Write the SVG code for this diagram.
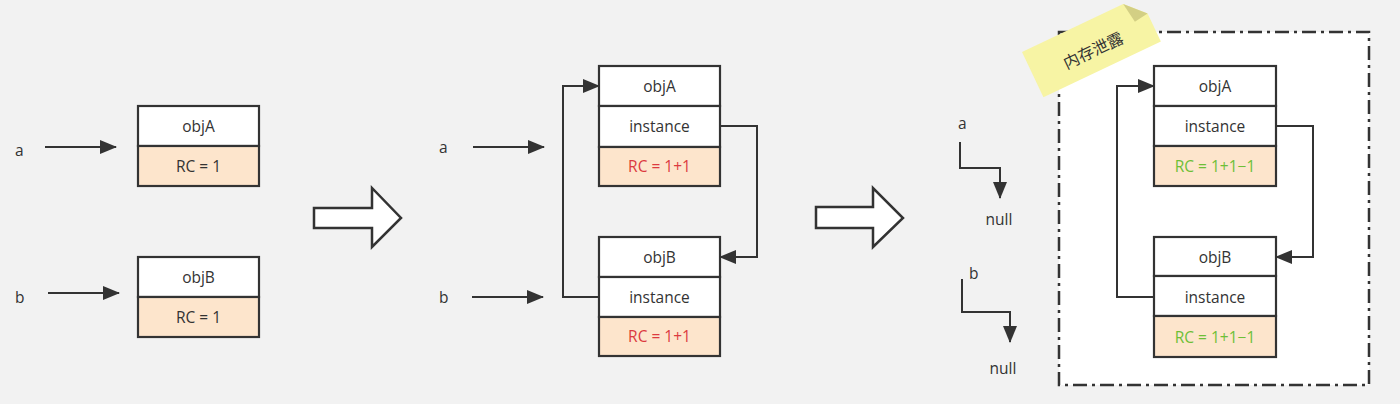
<svg xmlns="http://www.w3.org/2000/svg" width="1400" height="404" viewBox="0 0 1400 404">
<defs>
<style>
.cell{fill:#ffffff;stroke:#333333;stroke-width:2.2}
.rc{fill:#fde5cc;stroke:#333333;stroke-width:2.2}
.t{font-family:"Open Sans","Liberation Sans",sans-serif;font-size:15.5px;fill:#333333;text-anchor:middle;dominant-baseline:central}
.lbl{font-family:"Open Sans","Liberation Sans",sans-serif;font-size:15.5px;fill:#333333;dominant-baseline:central}
.red{fill:#dc3a40}
.green{fill:#6dbf37}
.conn{fill:none;stroke:#333333;stroke-width:2;marker-end:url(#ah)}
.big{fill:#ffffff;stroke:#333333;stroke-width:2.5;stroke-linejoin:miter}
</style>
<marker id="ah" markerUnits="userSpaceOnUse" markerWidth="17" markerHeight="14" refX="16" refY="7" orient="auto">
<path d="M0,0 L17,7 L0,14 Z" fill="#333333"/>
</marker>
</defs>
<rect width="1400" height="404" fill="#f2f2f2"/>

<!-- Stage 1 -->
<g id="s1-objA">
<rect class="cell" x="138" y="106" width="121" height="40"/>
<rect class="rc" x="138" y="146" width="121" height="40"/>
<text class="t" x="198.5" y="126">objA</text>
<text class="t" x="198.5" y="166">RC = 1</text>
</g>
<g id="s1-objB">
<rect class="cell" x="138" y="257" width="121" height="40"/>
<rect class="rc" x="138" y="297" width="121" height="40"/>
<text class="t" x="198.5" y="277">objB</text>
<text class="t" x="198.5" y="317">RC = 1</text>
</g>
<g id="s1-labels">
<text class="lbl" x="15" y="150">a</text>
<text class="lbl" x="15" y="297">b</text>
</g>

<g id="bigarrow1">
<path class="big" d="M314,208 H372 V188 L401,218 L372,247 V228 H314 Z"/>
</g>

<!-- Stage 2 -->
<g id="s2-objA">
<rect class="cell" x="599" y="66" width="121" height="40"/>
<rect class="cell" x="599" y="106" width="121" height="41"/>
<rect class="rc" x="599" y="147" width="121" height="39"/>
<text class="t" x="659.5" y="86">objA</text>
<text class="t" x="659.5" y="126">instance</text>
<text class="t red" x="659.5" y="166">RC = 1+1</text>
</g>
<g id="s2-objB">
<rect class="cell" x="599" y="237" width="121" height="40"/>
<rect class="cell" x="599" y="277" width="121" height="40"/>
<rect class="rc" x="599" y="317" width="121" height="39"/>
<text class="t" x="659.5" y="257">objB</text>
<text class="t" x="659.5" y="297">instance</text>
<text class="t red" x="659.5" y="336">RC = 1+1</text>
</g>
<g id="s2-labels">
<text class="lbl" x="439" y="147">a</text>
<text class="lbl" x="439" y="297">b</text>
</g>

<g id="bigarrow2">
<path class="big" d="M816,207 H873 V188 L903,218 L873,247 V228 H816 Z"/>
</g>

<!-- Stage 3 -->
<g id="leak-frame">
<rect x="1059" y="32" width="310" height="353" fill="#ffffff" stroke="#333333" stroke-width="2.5" stroke-dasharray="14,5,3,5"/>
</g>
<g id="s3-objA">
<rect class="cell" x="1154" y="66" width="122" height="40"/>
<rect class="cell" x="1154" y="106" width="122" height="40"/>
<rect class="rc" x="1154" y="146" width="122" height="40"/>
<text class="t" x="1215" y="86">objA</text>
<text class="t" x="1215" y="126">instance</text>
<text class="t green" x="1215" y="166">RC = 1+1−1</text>
</g>
<g id="s3-objB">
<rect class="cell" x="1154" y="237" width="122" height="39"/>
<rect class="cell" x="1154" y="276" width="122" height="40"/>
<rect class="rc" x="1154" y="316" width="122" height="41"/>
<text class="t" x="1215" y="257">objB</text>
<text class="t" x="1215" y="297">instance</text>
<text class="t green" x="1215" y="337">RC = 1+1−1</text>
</g>
<g id="s3-labels">
<text class="lbl" x="958" y="123">a</text>
<text class="lbl" x="969" y="273">b</text>
<text class="t" x="999" y="219">null</text>
<text class="t" x="1003" y="368">null</text>
</g>

<g id="sticky-note" transform="translate(1022,52) rotate(-25.4)">
<path d="M0,0 H112 L130,19 V50 H0 Z" fill="#f7f4a4"/>
<path d="M112,0 L130,19 L115,21 Z" fill="#d3cf84"/>
<text x="65" y="28" font-family="'Noto Sans CJK SC',sans-serif" font-size="16" fill="#333333" text-anchor="middle" dominant-baseline="central">内存泄露</text>
</g>

<g id="connectors">
<line class="conn" x1="45" y1="147" x2="116" y2="147"/>
<line class="conn" x1="48" y1="293" x2="119" y2="293"/>
<line class="conn" x1="473" y1="147" x2="544" y2="147"/>
<line class="conn" x1="472" y1="297" x2="543" y2="297"/>
<path class="conn" d="M599,297 H563 V86 H599"/>
<path class="conn" d="M720,126 H757 V257 H720"/>
<path class="conn" d="M960,142 V168 H1000 V198"/>
<path class="conn" d="M962,279 V312 H1010 V342"/>
<path class="conn" d="M1154,297 H1117 V86 H1154"/>
<path class="conn" d="M1276,126 H1313 V257 H1276"/>
</g>
</svg>
